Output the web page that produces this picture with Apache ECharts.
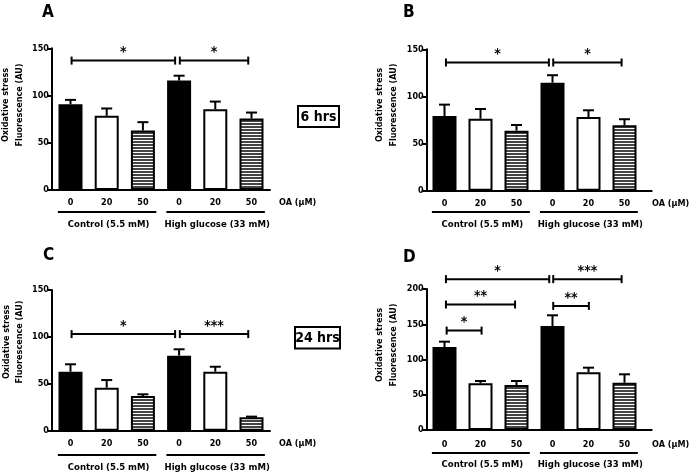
<!DOCTYPE html>
<html><head><meta charset="utf-8">
<script src="https://cdn.jsdelivr.net/npm/echarts@6/dist/echarts.min.js"></script>
<style>html,body{margin:0;padding:0;background:#fff}#c{width:697px;height:475px}</style>
</head><body><div id="c"></div><script>
// ---- data ----
const doseLabels = ['0', '20', '50', '0', '20', '50'];
const groupLabels = ['Control (5.5 mM)', 'High glucose (33 mM)'];
const groupMembers = [[0, 2], [3, 5]];
const doseUnit = 'OA (\u03bcM)';
const yTitle = ['Oxidative stress', 'Fluorescence (AU)'];
const panelLetters = ['A', 'B', 'C', 'D'];
const timeLabels = ['6 hrs', '24 hrs'];

const meanA = [90.8, 78.5, 63.0, 115.8, 85.5, 75.7];
const errA  = [4.6, 7.8, 8.8, 5.2, 8.1, 6.3];
const meanB = [79.3, 76.4, 63.7, 114.6, 78.2, 69.4];
const errB  = [12.0, 10.3, 6.0, 7.9, 7.1, 6.4];
const meanC = [62.9, 45.8, 37.0, 80.0, 62.9, 14.3];
const errC  = [7.9, 8.2, 1.8, 6.8, 5.3, 0.7];
const meanD = [117.7, 66.2, 63.8, 147.5, 81.8, 67.1];
const errD  = [7.6, 3.3, 5.7, 15.2, 6.6, 11.9];

// significance brackets: [from bar, to bar, height, stars]
const sigA = [[0.03, 2.89, 137, '*'], [3.02, 4.91, 137, '*']];
const sigB = [[0.04, 2.90, 136, '*'], [3.02, 4.92, 136, '*']];
const sigC = [[0.03, 2.89, 103, '*'], [3.02, 4.91, 103, '***']];
const sigD = [[0.04, 2.91, 214, '*'], [3.02, 4.92, 214, '***'], [0.04, 1.96, 178, '**'],
              [0.06, 1.03, 141, '*'], [3.02, 4.01, 176, '**']];

const yMaxAC = 150, yMaxD = 200, yStep = 50;

// ---- styling / layout ----
const FONT = "'DejaVu Sans Condensed', 'DejaVu Sans', sans-serif";
const pat = document.createElement('canvas');
pat.width = 4; pat.height = 3;
(function () {
  const g = pat.getContext('2d');
  g.fillStyle = '#ffffff'; g.fillRect(0, 0, 4, 3);
  g.fillStyle = '#444444'; g.fillRect(0, 0, 4, 2);
})();
const fills = ['#000', '#fff', { image: pat, repeat: 'repeat' }, '#000', '#fff', { image: pat, repeat: 'repeat' }];

const panels = [
  { mean: meanA, err: errA, sig: sigA, ymax: yMaxAC, ax: 52, end: 270, top: 48.3, y0: 190, c0: 70.5, sp: 36.2, off: [13, 22, 34.5] },
  { mean: meanB, err: errB, sig: sigB, ymax: yMaxAC, ax: 426.7, end: 651.7, top: 49.3, y0: 190.7, c0: 444.5, sp: 36, off: [12.6, 21.3, 34.3] },
  { mean: meanC, err: errC, sig: sigC, ymax: yMaxAC, ax: 52, end: 270, top: 290, y0: 430.7, c0: 70.5, sp: 36.2, off: [12.6, 24.3, 37.3] },
  { mean: meanD, err: errD, sig: sigD, ymax: yMaxD, ax: 426.7, end: 651.7, top: 289, y0: 430, c0: 444.5, sp: 36, off: [14.3, 23, 35] }
];

const grid = [], xAxis = [], yAxis = [], series = [];
panels.forEach((p, k) => {
  grid.push({ left: p.ax, top: p.top, width: p.end - p.ax, height: p.y0 - p.top });
  xAxis.push({
    type: 'value', gridIndex: k,
    min: (p.ax - p.c0) / p.sp, max: (p.end - p.c0) / p.sp,
    axisLine: { show: true, onZero: false, lineStyle: { color: '#000', width: 2 } },
    axisTick: { show: false }, axisLabel: { show: false }, splitLine: { show: false }
  });
  yAxis.push({
    type: 'value', gridIndex: k, min: 0, max: p.ymax, interval: yStep,
    axisLine: { show: true, onZero: false, lineStyle: { color: '#000', width: 2 } },
    axisTick: { show: true, length: 5, lineStyle: { color: '#000', width: 2 } },
    axisLabel: { color: '#000', fontFamily: FONT, fontWeight: 'bold', fontSize: 9, margin: 3 },
    splitLine: { show: false }
  });
  series.push({
    type: 'bar', xAxisIndex: k, yAxisIndex: k, barWidth: 24, silent: true,
    data: p.mean.map((v, i) => ({
      value: [i, v],
      itemStyle: { color: fills[i], borderColor: '#000', borderWidth: 2 }
    }))
  });
  // error bars (upper)
  series.push({
    type: 'custom', xAxisIndex: k, yAxisIndex: k, silent: true, clip: false,
    data: p.mean.map((v, i) => [i, v, p.err[i]]),
    renderItem: (params, api) => {
      const a = api.coord([api.value(0), api.value(1)]);
      const b = api.coord([api.value(0), api.value(1) + api.value(2)]);
      return {
        type: 'group', children: [
          { type: 'line', shape: { x1: a[0], y1: a[1], x2: b[0], y2: b[1] }, style: { stroke: '#000', lineWidth: 2 } },
          { type: 'line', shape: { x1: b[0] - 5.5, y1: b[1], x2: b[0] + 5.5, y2: b[1] }, style: { stroke: '#000', lineWidth: 2 } }
        ]
      };
    }
  });
  // significance brackets
  series.push({
    type: 'custom', xAxisIndex: k, yAxisIndex: k, silent: true, clip: false,
    data: p.sig.map(s => [s[0], s[1], s[2]]),
    renderItem: (params, api) => {
      const a = api.coord([api.value(0), api.value(2)]);
      const b = api.coord([api.value(1), api.value(2)]);
      const st = { stroke: '#000', lineWidth: 2 };
      return {
        type: 'group', children: [
          { type: 'line', shape: { x1: a[0], y1: a[1], x2: b[0], y2: b[1] }, style: st },
          { type: 'line', shape: { x1: a[0], y1: a[1] - 4, x2: a[0], y2: a[1] + 4 }, style: st },
          { type: 'line', shape: { x1: b[0], y1: b[1] - 4, x2: b[0], y2: b[1] + 4 }, style: st },
          { type: 'text', x: (a[0] + b[0]) / 2, y: a[1] - 8,
            style: { text: p.sig[params.dataIndex][3], fill: '#000', font: 'bold 14px ' + FONT, textAlign: 'center', textVerticalAlign: 'middle' } }
        ]
      };
    }
  });
  // dose labels below axis
  series.push({
    type: 'custom', xAxisIndex: k, yAxisIndex: k, silent: true, clip: false,
    data: doseLabels.map((d, i) => [i, 0]),
    renderItem: (params, api) => {
      const a = api.coord([api.value(0), 0]);
      const children = [{ type: 'text', x: a[0], y: a[1] + p.off[0],
        style: { text: doseLabels[params.dataIndex], fill: '#000', font: 'bold 9px ' + FONT, textAlign: 'center', textVerticalAlign: 'middle' } }];
      if (params.dataIndex === doseLabels.length - 1) {
        children.push({ type: 'text', x: a[0] + 27.5, y: a[1] + p.off[0],
          style: { text: doseUnit, fill: '#000', font: 'bold 9px ' + FONT, textAlign: 'left', textVerticalAlign: 'middle' } });
      }
      return { type: 'group', children };
    }
  });
  // group lines + labels
  series.push({
    type: 'custom', xAxisIndex: k, yAxisIndex: k, silent: true, clip: false,
    data: groupMembers.map(g => [g[0], g[1]]),
    renderItem: (params, api) => {
      const a = api.coord([api.value(0) - 0.35, 0]);
      const b = api.coord([api.value(1) + 0.37, 0]);
      const y = a[1] + p.off[1];
      return {
        type: 'group', children: [
          { type: 'line', shape: { x1: a[0], y1: y, x2: b[0], y2: y }, style: { stroke: '#000', lineWidth: 2 } },
          { type: 'text', x: (a[0] + b[0]) / 2 + 1.5, y: a[1] + p.off[2],
            style: { text: groupLabels[params.dataIndex], fill: '#000', font: 'bold 9.5px ' + FONT, textAlign: 'center', textVerticalAlign: 'middle' } }
        ]
      };
    }
  });
});

const graphic = [];
const letterPos = [[42, 4], [403, 4], [43, 247], [403, 249]];
panelLetters.forEach((t, i) => graphic.push({ type: 'text', left: letterPos[i][0], top: letterPos[i][1],
  style: { text: t, fill: '#000', font: 'bold 17px ' + FONT } }));
const titlePos = [[6, 20, 105], [380, 394, 105], [6.5, 20, 342], [380, 394, 345]];
titlePos.forEach(tp => {
  [0, 1].forEach(j => graphic.push({ type: 'text', x: tp[j], y: tp[2], rotation: Math.PI / 2,
    style: { text: yTitle[j], fill: '#000', font: 'bold 9px ' + FONT, textAlign: 'center', textVerticalAlign: 'middle' } }));
});
const boxes = [[298, 106, 41, 21], [295, 327, 45, 21.5]];
boxes.forEach((b, i) => {
  graphic.push({ type: 'rect', shape: { x: b[0], y: b[1], width: b[2], height: b[3] }, style: { fill: '#fff', stroke: '#000', lineWidth: 2 } });
  graphic.push({ type: 'text', x: b[0] + b[2] / 2, y: b[1] + b[3] / 2 + 0.5,
    style: { text: timeLabels[i], fill: '#000', font: 'bold 14px ' + FONT, textAlign: 'center', textVerticalAlign: 'middle' } });
});

const chart = echarts.init(document.getElementById('c'), null, { renderer: 'canvas' });
chart.setOption({ animation: false, backgroundColor: '#fff', grid, xAxis, yAxis, series, graphic });
</script></body></html>
